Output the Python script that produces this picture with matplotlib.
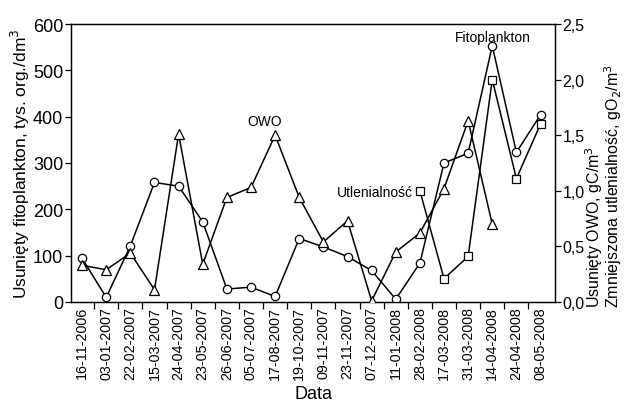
import matplotlib
matplotlib.use("Agg")
import matplotlib.pyplot as plt
import numpy as np

plt.rcParams['font.family'] = ['Liberation Sans', 'DejaVu Sans']

dates = ["16-11-2006", "03-01-2007", "22-02-2007", "15-03-2007", "24-04-2007",
         "23-05-2007", "26-06-2007", "05-07-2007", "17-08-2007", "19-10-2007",
         "09-11-2007", "23-11-2007", "07-12-2007", "11-01-2008", "28-02-2008",
         "17-03-2008", "31-03-2008", "14-04-2008", "24-04-2008", "08-05-2008"]

fitoplankton = [94, 10, 121, 258, 250, 173, 28, 32, 12, 137,
                119, 98, 68, 6, 84, 300, 321, 553, 323, 404]

owo = [0.33, 0.29, 0.44, 0.11, 1.51, 0.34, 0.94, 1.03, 1.50, 0.94,
       0.54, 0.73, 0.01, 0.45, 0.62, 1.02, 1.63, 0.70]

utl_idx = [14, 15, 16, 17, 18, 19]
utlenialnosc = [1.00, 0.21, 0.41, 2.00, 1.11, 1.60]

left_ticks = [0, 100, 200, 300, 400, 500, 600]
right_ticks = [0.0, 0.5, 1.0, 1.5, 2.0, 2.5]
right_labels = ["0,0", "0,5", "1,0", "1,5", "2,0", "2,5"]

W, H = 625, 402
fig = plt.figure(figsize=(W / 100, H / 100), dpi=100)
ax = fig.add_axes([71 / W, 1 - 303 / H, (555 - 71) / W, (303 - 25) / H])
ax2 = ax.twinx()

x = np.arange(len(dates))
lw = 1.1
ax.plot(x, fitoplankton, color='black', lw=lw, marker='o', ms=6,
        mfc='white', mec='black', mew=0.9, zorder=3)
ax2.plot(x[:len(owo)], owo, color='black', lw=lw, marker='^', ms=7,
         mfc='white', mec='black', mew=0.9, zorder=3)
ax2.plot(utl_idx, utlenialnosc, color='black', lw=lw, marker='s', ms=5.5,
         mfc='white', mec='black', mew=0.9, zorder=3)

ax.set_xlim(-0.46, 19.6)
ax.set_ylim(0, 600)
ax2.set_ylim(0, 2.5)

ax.set_xticks(x)
ax.set_xticklabels(dates, rotation=90, fontsize=10.3)
ax.tick_params(axis='x', which='major', length=0, pad=3)
ax.set_xticks(np.arange(0.5, 19.5, 1.0), minor=True)
ax.tick_params(axis='x', which='minor', length=5, direction='out', width=0.9)

ax.set_yticks(left_ticks)
ax.tick_params(axis='y', labelsize=13, length=4, width=0.9, direction='out', pad=1.5)
ax2.set_yticks(right_ticks)
ax2.set_yticklabels(right_labels)
ax2.tick_params(axis='y', labelsize=11.5, length=4, width=0.9, direction='out', pad=1.5)

for sp in ax.spines.values():
    sp.set_linewidth(0.9)
for sp in ax2.spines.values():
    sp.set_linewidth(0.9)

ax.set_xlabel("Data", fontsize=13)
ax.xaxis.set_label_coords(0.5, (303 - 386) / 278)
ax.set_ylabel("Usunięty fitoplankton, tys. org./dm$^3$", fontsize=12.5, labelpad=1)

fig.text(603.5 / W, 1 - 308 / H,
         "Usunięty OWO, gC/m$^3$\nZmniejszona utlenialność, gO$_2$/m$^3$",
         rotation=90, ha='center', va='bottom', multialignment='left',
         fontsize=11.5, linespacing=0.8)

ax2.text(7.56, 1.63, "OWO", ha='center', va='center', fontsize=10)
ax.text(12.15, 237, "Utlenialność", ha='center', va='center', fontsize=10)
ax.text(17.03, 573, "Fitoplankton", ha='center', va='center', fontsize=10)

fig.savefig("out.png", dpi=100)
